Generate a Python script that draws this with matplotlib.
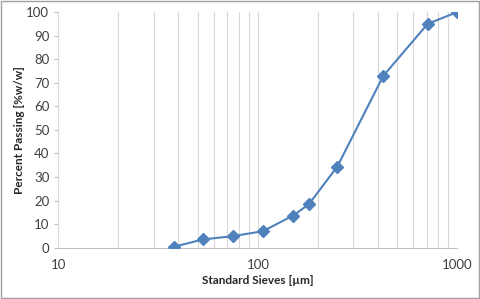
import matplotlib.pyplot as plt
from matplotlib.ticker import LogLocator, NullFormatter, FixedLocator

plt.rcParams['font.family'] = ['Lato', 'DejaVu Sans']

sieve_um = [38, 53, 75, 106, 150, 180, 250, 425, 710, 1000]
passing = [0.4, 3.5, 4.9, 7.0, 13.6, 18.4, 34.4, 72.9, 95.0, 100.0]

fig = plt.figure(figsize=(4.8, 2.99), dpi=100)
ax = fig.add_axes([0.1215, 0.1716, 0.8315, 0.7883])

ax.plot(sieve_um, passing, color='#4F81BD', lw=1.5, marker='D', ms=6.5,
        markerfacecolor='#4F81BD', markeredgecolor='#4F81BD', zorder=3)

ax.set_xscale('log')
ax.set_xlim(10, 1000)
ax.set_ylim(0, 100)
ax.set_yticks(range(0, 101, 10))
ax.xaxis.set_major_locator(FixedLocator([10, 100, 1000]))
ax.xaxis.set_minor_locator(LogLocator(base=10, subs=range(2, 10)))
ax.xaxis.set_minor_formatter(NullFormatter())
ax.set_xticklabels(['10', '100', '1000'])

ax.grid(True, which='both', axis='x', color='#D9D9D9', lw=0.8)
ax.set_axisbelow(True)
for s in ['top', 'right']:
    ax.spines[s].set_visible(False)
ax.spines['left'].set_color('#D9D9D9')
ax.spines['bottom'].set_color('#BFBFBF')
ax.tick_params(axis='x', which='both', length=0, labelsize=9.5, colors='#404040', pad=8)
ax.tick_params(axis='y', length=3, color='#BFBFBF', labelsize=9.5, labelcolor='#404040')

ax.set_xlabel('Standard Sieves [µm]', fontsize=8.5, fontweight='bold', color='#262626', labelpad=3)
ax.set_ylabel('Percent Passing [%w/w]', fontsize=8.5, fontweight='bold', color='#262626', labelpad=1)

fig.patches.append(plt.Rectangle((0.002, 0.003), 0.995, 0.994, transform=fig.transFigure,
                                 fill=False, edgecolor='#A0A0A0', lw=1))

fig.savefig('out.png', dpi=100)
